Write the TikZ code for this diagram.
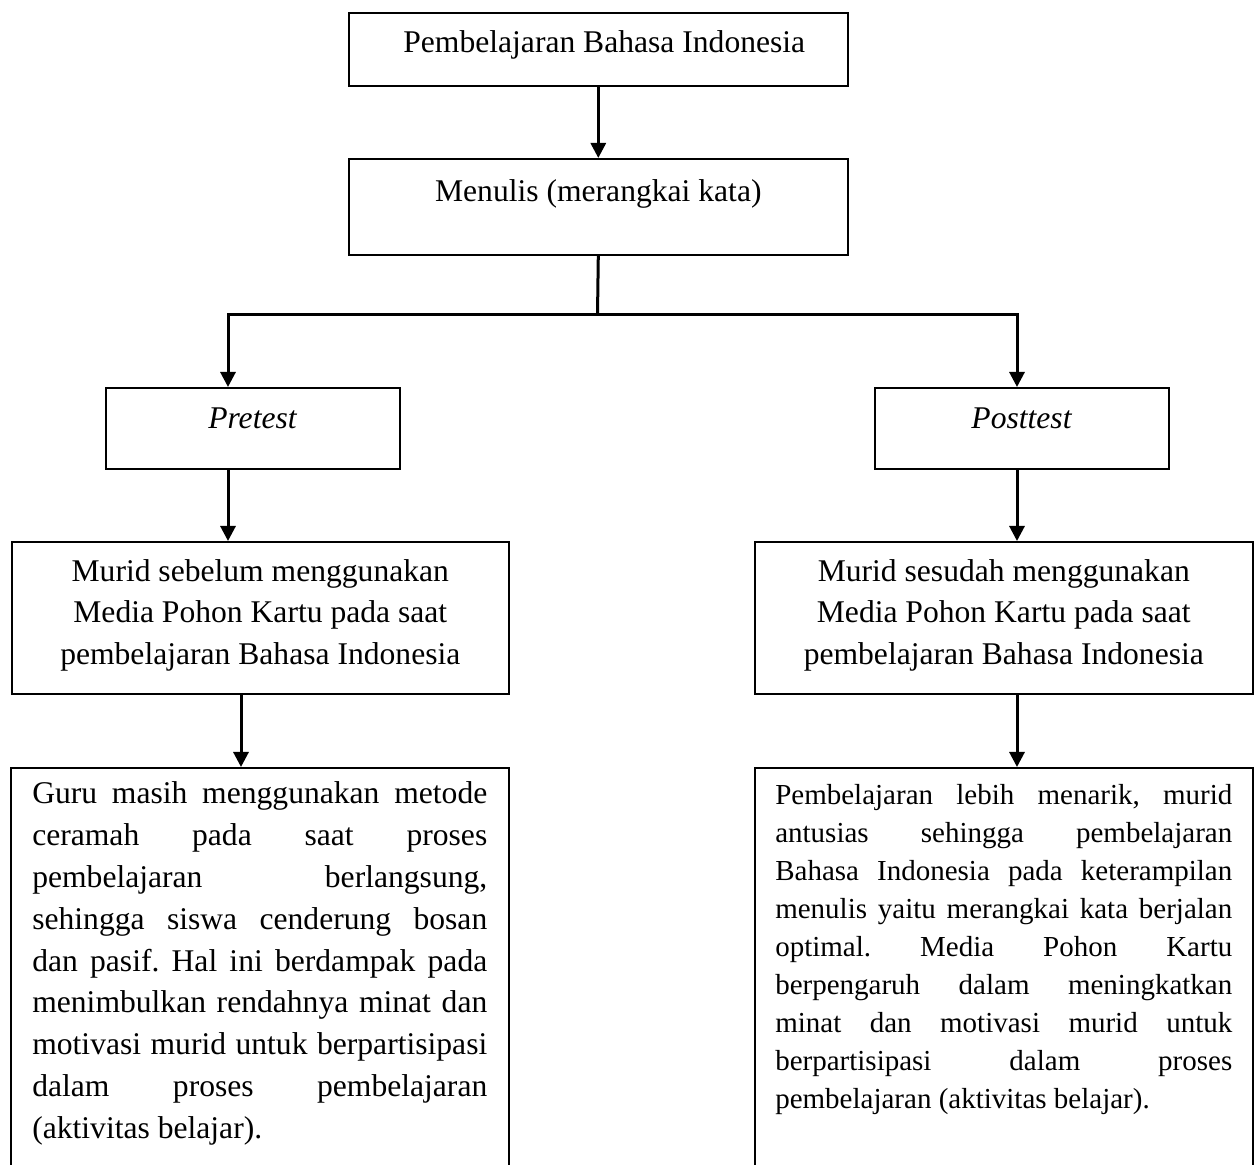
\documentclass[tikz,border=0pt]{standalone}
\usepackage{fontspec}
\setmainfont{Liberation Serif}
\usepackage{tikz}
\usetikzlibrary{calc}
\usetikzlibrary{arrows.meta}
\usetikzlibrary{positioning}
\hyphenpenalty=10000
\exhyphenpenalty=10000
\tolerance=10000
\hbadness=10000
\frenchspacing

\begin{document}
\begin{tikzpicture}[x=1pt, y=-1pt,
        box/.style={draw, line width=0.8pt, anchor=north west, align=center, inner xsep=4pt, inner ysep=0pt,
                    font=\fontsize{15.8}{20.9}\selectfont},
        note/.style={box, align=justify},
        flow/.style={line width=1.5pt, -{Triangle[length=7.5pt, width=7.5pt]}},
        link/.style={line width=1.5pt}]
            % Frame to fix the page size:
            \useasboundingbox                                                  (0.00, 0.00) rectangle (629.50, 582.50);
            % Top boxes
            \node[box, minimum width=249.5pt, text height=20pt,   text depth=16.5pt] (bahasa)  at (174.00,   6.00) {\hspace{6pt}Pembelajaran Bahasa Indonesia};
            \node[box, minimum width=249.5pt, text height=21.5pt, text depth=26.5pt] (menulis) at (174.00,  79.00) {Menulis (merangkai kata)};
            % Test boxes
            \node[box, minimum width=147pt,   text height=20.5pt, text depth=20pt]   (pretest)  at ( 52.50, 193.50) {\textit{Pretest}};
            \node[box, minimum width=147pt,   text height=20.5pt, text depth=20pt]   (posttest) at (437.00, 193.50) {\textit{Posttest}};
            % Murid boxes (baseline on the last line)
            \node[box, minimum width=248.5pt, text height=61.5pt, text depth=14.5pt] (sebelum) at (  5.50, 270.50)
                 {Murid sebelum menggunakan\\Media Pohon Kartu pada saat\\pembelajaran Bahasa Indonesia};
            \node[box, minimum width=249pt,   text height=61.5pt, text depth=14.5pt] (sesudah) at (377.00, 270.50)
                 {Murid sesudah menggunakan\\Media Pohon Kartu pada saat\\pembelajaran Bahasa Indonesia};
            % Result boxes
            \node[note, text width=227.5pt, inner xsep=10.75pt, text height=18pt, text depth=187pt] (ceramah) at (  5.00, 383.50)
                 {Guru masih menggunakan metode\linebreak
                  ceramah pada saat proses\linebreak
                  pembelajaran berlangsung,\linebreak
                  sehingga siswa cenderung bosan\linebreak
                  dan pasif. Hal ini berdampak pada\linebreak
                  menimbulkan rendahnya minat dan\linebreak
                  motivasi murid untuk berpartisipasi\linebreak
                  dalam proses pembelajaran\linebreak
                  (aktivitas belajar).};
            \node[note, text width=228.5pt, inner xsep=10.25pt, text height=18.5pt, text depth=186.5pt,
                  font=\fontsize{14.5}{19}\selectfont] (optimal) at (377.00, 383.50)
                 {Pembelajaran lebih menarik, murid\linebreak
                  antusias sehingga pembelajaran\linebreak
                  Bahasa Indonesia pada keterampilan\linebreak
                  menulis yaitu merangkai kata berjalan\linebreak
                  optimal. Media Pohon Kartu\linebreak
                  berpengaruh dalam meningkatkan\linebreak
                  minat dan motivasi murid untuk\linebreak
                  berpartisipasi dalam proses\linebreak
                  pembelajaran (aktivitas belajar).};
            % Split points
            \coordinate (split)  at (298.75, 157.50);
            \coordinate (splitL) at (114.00, 157.50);
            \coordinate (splitR) at (508.50, 157.50);
            \coordinate (dropL)  at (120.50, 0.00);
            % Connectors
            \draw[flow] (bahasa.south) -- (menulis.north);
            \draw[link] (menulis.south) -- (split);
            \draw[flow] (split) -| (splitL |- pretest.north);
            \draw[flow] (split) -| (splitR |- posttest.north);
            \draw[flow] (pretest.south -| splitL)  -- (splitL |- sebelum.north);
            \draw[flow] (posttest.south -| splitR) -- (splitR |- sesudah.north);
            \draw[flow] (sebelum.south -| dropL)   -- (dropL |- ceramah.north);
            \draw[flow] (sesudah.south -| splitR)  -- (splitR |- optimal.north);
\end{tikzpicture}
\end{document}
